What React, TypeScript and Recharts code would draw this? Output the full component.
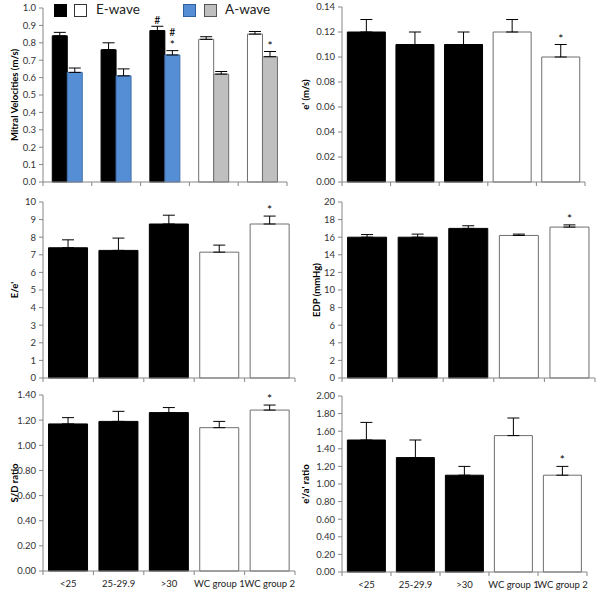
import React from 'react';
import { BarChart, Bar, XAxis, YAxis, ErrorBar, Cell, LabelList, Legend } from 'recharts';

const FONT = 'Lato, "Liberation Sans", sans-serif';
const AXIS = '#868686';

const categories = ['<25', '25-29.9', '>30', 'WC group 1', 'WC group 2'];
const groupKinds = ['BMI', 'BMI', 'BMI', 'WC', 'WC'];

// Mitral velocities (m/s)
const eWave = [0.84, 0.76, 0.87, 0.82, 0.85];
const eWaveErr = [0.02, 0.04, 0.025, 0.015, 0.015];
const eWaveSig = [[], [], ['#'], [], []];
const aWave = [0.63, 0.61, 0.73, 0.62, 0.72];
const aWaveErr = [0.025, 0.04, 0.025, 0.015, 0.03];
const aWaveSig = [[], [], ['#', '*'], [], ['*']];
const mitralTicks = [0, 0.1, 0.2, 0.3, 0.4, 0.5, 0.6, 0.7, 0.8, 0.9, 1.0];

// e' (m/s)
const ePrime = [0.12, 0.11, 0.11, 0.12, 0.10];
const ePrimeErr = [0.01, 0.01, 0.01, 0.01, 0.01];
const ePrimeSig = [[], [], [], [], ['*']];
const ePrimeTicks = [0, 0.02, 0.04, 0.06, 0.08, 0.1, 0.12, 0.14];

// E/e'
const eRatio = [7.4, 7.25, 8.75, 7.15, 8.75];
const eRatioErr = [0.45, 0.7, 0.5, 0.4, 0.45];
const eRatioSig = [[], [], [], [], ['*']];
const eRatioTicks = [0, 1, 2, 3, 4, 5, 6, 7, 8, 9, 10];

// EDP (mmHg)
const edp = [16.0, 16.0, 17.0, 16.2, 17.15];
const edpErr = [0.3, 0.35, 0.3, 0.15, 0.25];
const edpSig = [[], [], [], [], ['*']];
const edpTicks = [0, 2, 4, 6, 8, 10, 12, 14, 16, 18, 20];

// S/D ratio
const sdRatio = [1.17, 1.19, 1.26, 1.14, 1.28];
const sdRatioErr = [0.05, 0.08, 0.04, 0.05, 0.04];
const sdRatioSig = [[], [], [], [], ['*']];
const sdRatioTicks = [0, 0.2, 0.4, 0.6, 0.8, 1.0, 1.2, 1.4];

// e'/a' ratio
const eaRatio = [1.5, 1.3, 1.1, 1.55, 1.1];
const eaRatioErr = [0.2, 0.2, 0.1, 0.2, 0.1];
const eaRatioSig = [[], [], [], [], ['*']];
const eaRatioTicks = [0, 0.2, 0.4, 0.6, 0.8, 1.0, 1.2, 1.4, 1.6, 1.8, 2.0];

const mitralRows = categories.map((c, i) => ({
  cat: c,
  kind: groupKinds[i],
  e: eWave[i],
  eErr: eWaveErr[i],
  eRange: [0, eWaveErr[i]],
  eSig: eWaveSig[i],
  a: aWave[i],
  aErr: aWaveErr[i],
  aRange: [0, aWaveErr[i]],
  aSig: aWaveSig[i],
}));

function makeRows(values: number[], errs: number[], sigs: string[][]) {
  return categories.map((c, i) => ({
    cat: c,
    kind: groupKinds[i],
    v: values[i],
    vErr: errs[i],
    vRange: [0, errs[i]],
    vSig: sigs[i],
  }));
}

function sigContent(rows: any[], key: string) {
  return (props: any) => {
    const idx = props.index;
    const row = rows[idx];
    if (!row) return null;
    const sig = row[key + 'Sig'];
    if (!sig || !sig.length) return null;
    const vb = props.viewBox || props;
    const val = row[key];
    const ppu = vb.height / val;
    const top = vb.y - row[key + 'Err'] * ppu;
    const cx = vb.x + vb.width / 2;
    return (
      <g>
        {sig.map((s: string, k: number) => (
          <text
            key={k}
            x={cx}
            y={top - 2 - (sig.length - 1 - k) * 13}
            textAnchor="middle"
            fontSize={s === '*' ? 12 : 10.5}
            fontFamily={FONT}
            fill="#000"
          >
            {s}
          </text>
        ))}
      </g>
    );
  };
}

function makeXTick(bw: number, showLabel: boolean) {
  return (p: any) => {
    const { x, y, payload, index } = p;
    return (
      <g>
        <line x1={x - bw / 2} x2={x - bw / 2} y1={y} y2={y + 4} stroke={AXIS} />
        {index === categories.length - 1 && (
          <line x1={x + bw / 2} x2={x + bw / 2} y1={y} y2={y + 4} stroke={AXIS} />
        )}
        {showLabel && (
          <text x={x} y={y + 16} textAnchor="middle" fontSize={9.5} fill="#222" fontFamily={FONT}>
            {payload.value}
          </text>
        )}
      </g>
    );
  };
}

type PanelProps = {
  left: number;
  top: number;
  width: number;
  height: number;
  margin: { top: number; right: number; bottom: number; left: number };
  yWidth: number;
  xHeight: number;
  showCats: boolean;
  ticks: number[];
  digits: number;
  label: string;
  labelX: number;
  children?: any;
  rows: any[];
  gap?: string;
  legend?: boolean;
};

function yLabelContent(text: string, x: number, y: number) {
  return () => (
    <text
      transform={`translate(${x}, ${y}) rotate(-90)`}
      textAnchor="middle"
      fontSize={9.5}
      fontWeight="bold"
      fontFamily={FONT}
      fill="#000"
    >
      {text}
    </text>
  );
}

function LegendBox() {
  const sq = (l: number, fill: string, stroke: string) => (
    <div
      style={{
        position: 'absolute',
        left: l,
        top: 4,
        width: 11,
        height: 11,
        background: fill,
        border: `1px solid ${stroke}`,
      }}
    />
  );
  const txt = (l: number, t: string) => (
    <div
      style={{
        position: 'absolute',
        left: l,
        top: 1,
        fontSize: 13.5,
        fontFamily: FONT,
        color: '#222',
        lineHeight: '16px',
        whiteSpace: 'nowrap',
      }}
    >
      {t}
    </div>
  );
  return (
    <div style={{ position: 'relative', width: 300, height: 20 }}>
      {sq(54, '#000', '#000')}
      {sq(74, '#fff', '#333')}
      {txt(96, 'E-wave')}
      {sq(183, '#558ED5', '#2f5f9f')}
      {sq(204, '#BFBFBF', '#555')}
      {txt(225, 'A-wave')}
    </div>
  );
}

function Panel(props: PanelProps) {
  const { left, top, width, height, margin, yWidth, xHeight, showCats, ticks, digits, label, labelX, rows } = props;
  const plotW = width - margin.left - margin.right - yWidth;
  const plotTop = margin.top;
  const plotH = height - margin.top - margin.bottom - xHeight;
  const bw = plotW / categories.length;
  return (
    <div style={{ position: 'absolute', left, top, width, height }}>
      <BarChart
        width={width}
        height={height}
        data={rows}
        margin={margin}
        barGap={0}
        barCategoryGap={props.gap || '11%'}
      >
        <XAxis
          dataKey="cat"
          interval={0}
          height={xHeight}
          tickSize={0}
          tickMargin={0}
          tickLine={false}
          axisLine={{ stroke: AXIS }}
          tick={makeXTick(bw, showCats)}
        />
        <YAxis
          width={yWidth}
          domain={[0, ticks[ticks.length - 1]]}
          ticks={ticks}
          interval={0}
          tickSize={4}
          tickMargin={3}
          axisLine={{ stroke: AXIS }}
          tickLine={{ stroke: AXIS }}
          tick={{ fontSize: 9.5, fill: '#333', fontFamily: FONT }}
          tickFormatter={(v: number) => v.toFixed(digits)}
          label={yLabelContent(label, labelX, plotTop + plotH / 2)}
        />
        {props.legend && (
          <Legend
            layout="horizontal"
            verticalAlign="middle"
            align="center"
            wrapperStyle={{ position: 'absolute', left: 0, top: 0, width: 300, height: 20 }}
            content={() => <LegendBox />}
          />
        )}
        {props.children}
      </BarChart>
    </div>
  );
}

function singleBar(rows: any[]) {
  return (
    <Bar dataKey="v" isAnimationActive={false}>
      {rows.map((r, i) => (
        <Cell
          key={i}
          fill={r.kind === 'BMI' ? '#000' : '#fff'}
          stroke={r.kind === 'BMI' ? '#000' : '#6f6f6f'}
          strokeWidth={1}
        />
      ))}
      <ErrorBar dataKey="vRange" direction="y" width={6} stroke="#000" strokeWidth={1} />
      <LabelList dataKey="v" content={sigContent(rows, 'v')} />
    </Bar>
  );
}

const ePrimeRows = makeRows(ePrime, ePrimeErr, ePrimeSig);
const eRatioRows = makeRows(eRatio, eRatioErr, eRatioSig);
const edpRows = makeRows(edp, edpErr, edpSig);
const sdRatioRows = makeRows(sdRatio, sdRatioErr, sdRatioSig);
const eaRatioRows = makeRows(eaRatio, eaRatioErr, eaRatioSig);

export default function App() {
  return (
    <div
      style={{
        position: 'absolute',
        left: 0,
        top: 0,
        width: 600,
        height: 593,
        background: '#fff',
        overflow: 'hidden',
        fontFamily: FONT,
      }}
    >
      <Panel
        left={0}
        top={0}
        width={300}
        height={190}
        margin={{ top: 8, right: 13, bottom: 2, left: 0 }}
        yWidth={43}
        xHeight={6}
        showCats={false}
        ticks={mitralTicks}
        digits={1}
        label="Mitral Velocities (m/s)"
        labelX={18}
        rows={mitralRows}
        gap="19%"
        legend
      >
        <Bar dataKey="e" isAnimationActive={false}>
          {mitralRows.map((r, i) => (
            <Cell
              key={i}
              fill={r.kind === 'BMI' ? '#000' : '#fff'}
              stroke={r.kind === 'BMI' ? '#000' : '#6f6f6f'}
              strokeWidth={1}
            />
          ))}
          <ErrorBar dataKey="eRange" direction="y" width={6} stroke="#000" strokeWidth={1} />
          <LabelList dataKey="e" content={sigContent(mitralRows, 'e')} />
        </Bar>
        <Bar dataKey="a" isAnimationActive={false}>
          {mitralRows.map((r, i) => (
            <Cell
              key={i}
              fill={r.kind === 'BMI' ? '#558ED5' : '#BFBFBF'}
              stroke={r.kind === 'BMI' ? '#3f6fae' : '#6f6f6f'}
              strokeWidth={1}
            />
          ))}
          <ErrorBar dataKey="aRange" direction="y" width={6} stroke="#000" strokeWidth={1} />
          <LabelList dataKey="a" content={sigContent(mitralRows, 'a')} />
        </Bar>
      </Panel>

      <Panel
        left={300}
        top={0}
        width={300}
        height={190}
        margin={{ top: 7, right: 15, bottom: 2, left: 0 }}
        yWidth={42}
        xHeight={6}
        showCats={false}
        ticks={ePrimeTicks}
        digits={2}
        label="e' (m/s)"
        labelX={9}
        rows={ePrimeRows}
      >
        {singleBar(ePrimeRows)}
      </Panel>

      <Panel
        left={0}
        top={190}
        width={300}
        height={200}
        margin={{ top: 12, right: 5, bottom: 6, left: 0 }}
        yWidth={43}
        xHeight={6}
        showCats={false}
        ticks={eRatioTicks}
        digits={0}
        label="E/e'"
        labelX={18}
        rows={eRatioRows}
      >
        {singleBar(eRatioRows)}
      </Panel>

      <Panel
        left={300}
        top={190}
        width={300}
        height={200}
        margin={{ top: 12, right: 5, bottom: 6, left: 0 }}
        yWidth={42}
        xHeight={6}
        showCats={false}
        ticks={edpTicks}
        digits={0}
        label="EDP (mmHg)"
        labelX={20}
        rows={edpRows}
      >
        {singleBar(edpRows)}
      </Panel>

      <Panel
        left={0}
        top={385}
        width={300}
        height={208}
        margin={{ top: 10, right: 5, bottom: 2, left: 0 }}
        yWidth={43}
        xHeight={20}
        showCats
        ticks={sdRatioTicks}
        digits={2}
        label="S/D ratio"
        labelX={18}
        rows={sdRatioRows}
      >
        {singleBar(sdRatioRows)}
      </Panel>

      <Panel
        left={300}
        top={385}
        width={300}
        height={208}
        margin={{ top: 11, right: 13, bottom: 1, left: 0 }}
        yWidth={42}
        xHeight={20}
        showCats
        ticks={eaRatioTicks}
        digits={2}
        label="e'/a' ratio"
        labelX={9}
        rows={eaRatioRows}
      >
        {singleBar(eaRatioRows)}
      </Panel>
    </div>
  );
}
